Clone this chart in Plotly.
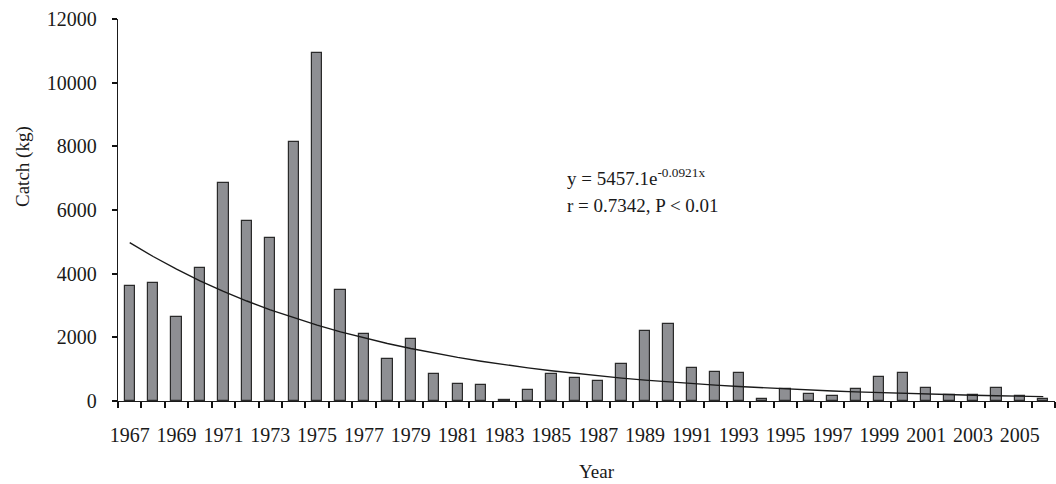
import plotly.graph_objects as go
import numpy as np

years = list(range(1967, 2007))
catch = [3600, 3700, 2630, 4190, 6860, 5650, 5130, 8150, 10920, 3500,
         2110, 1330, 1950, 840, 545, 495, 30, 360, 850, 710,
         640, 1150, 2210, 2410, 1050, 920, 890, 50, 370, 220,
         160, 370, 745, 870, 400, 180, 180, 400, 145, 55]
tick_labels = [str(y) for y in years[::2]]
y_ticks = [0, 2000, 4000, 6000, 8000, 10000, 12000]
y_tick_labels = [str(v) for v in y_ticks]

trend_a = 5457.1
trend_b = -0.0921
trend_x = np.arange(1, len(years) + 1)
trend_y = trend_a * np.exp(trend_b * trend_x)

FONT = "Liberation Serif"
INK = "#1a1a1a"

fig = go.Figure()
fig.add_trace(go.Bar(
    x=years, y=catch, width=0.44,
    marker=dict(color="#8e8f93", line=dict(color="#2a2a2a", width=1.2)),
    showlegend=False,
))
fig.add_trace(go.Scatter(
    x=years, y=trend_y, mode="lines",
    line=dict(color="#1a1a1a", width=1.4), showlegend=False,
))
# invisible trace to activate the label axis
fig.add_trace(go.Scatter(x=[years[0]], y=[0], xaxis="x2", mode="markers",
                         marker=dict(opacity=0), hoverinfo="skip",
                         showlegend=False))

boundaries = [y - 0.5 for y in years] + [years[-1] + 0.5]
xr = [years[0] - 0.5, years[-1] + 0.5]

fig.update_layout(
    width=1056, height=484,
    margin=dict(l=118, r=1, t=19, b=83),
    plot_bgcolor="white", paper_bgcolor="white",
    font=dict(family=FONT, size=20, color=INK),
    bargap=0,
    xaxis=dict(
        range=xr, tickmode="array",
        tickvals=boundaries, ticktext=[""] * len(boundaries),
        ticks="outside", ticklen=6, tickwidth=1.5, tickcolor="#111111",
        showgrid=False, zeroline=False,
        showline=True, linecolor=INK, linewidth=1.3,
    ),
    xaxis2=dict(
        range=xr, overlaying="x", side="bottom", anchor="y",
        tickmode="array", tickvals=years[::2], ticktext=tick_labels,
        ticks="", showgrid=False, zeroline=False, showline=False,
        ticklabelstandoff=20, tickfont=dict(family=FONT, size=20, color=INK),
    ),
    yaxis=dict(
        range=[0, 12000], tickmode="array",
        tickvals=y_ticks, ticktext=y_tick_labels,
        ticks="outside", ticklen=5, tickwidth=1.5, tickcolor="#111111",
        showgrid=False, zeroline=False,
        showline=True, linecolor=INK, linewidth=1.3,
        ticklabelstandoff=11,
    ),
    annotations=[
        dict(text="Catch (kg)", textangle=-90, xref="paper", yref="paper",
             x=(23 - 118) / 937, y=(401 - 167) / 382, xanchor="center",
             yanchor="middle", showarrow=False,
             font=dict(size=19, color=INK, family=FONT)),
        dict(text="Year", xref="paper", yref="paper",
             x=(597 - 118) / 937, y=-(471 - 401) / 382, xanchor="center",
             yanchor="middle", showarrow=False,
             font=dict(size=19, color=INK, family=FONT)),
        dict(text="y = 5457.1e<sup>-0.0921x</sup>", xref="x", yref="y",
             x=1985.6, y=7050, xanchor="left", yanchor="middle",
             showarrow=False, font=dict(size=19, color=INK, family=FONT)),
        dict(text="r = 0.7342, P < 0.01", xref="x", yref="y",
             x=1985.6, y=6140, xanchor="left", yanchor="middle",
             showarrow=False, font=dict(size=19, color=INK, family=FONT)),
    ],
)

fig.write_html("out.html")
